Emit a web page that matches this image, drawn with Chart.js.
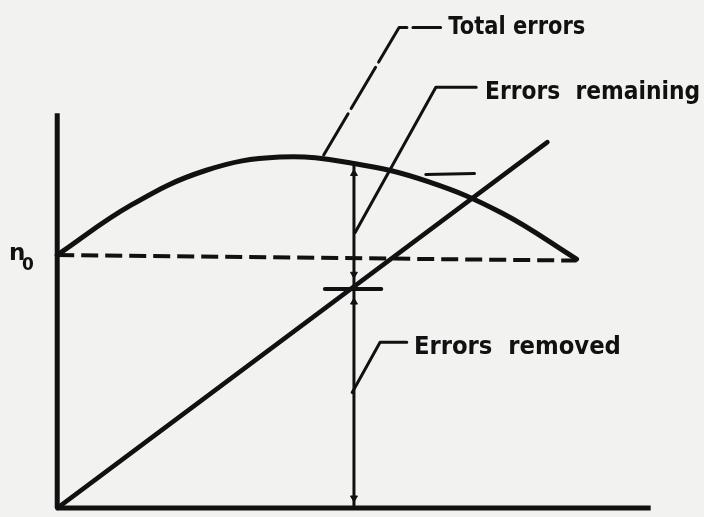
<!DOCTYPE html>
<html>
<head>
<meta charset="utf-8">
<script src="https://cdn.jsdelivr.net/npm/chart.js@4.4.1/dist/chart.umd.min.js"></script>
<style>
  html, body { margin: 0; padding: 0; background: #f2f2f0; }
  #wrap { width: 704px; height: 517px; }
</style>
</head>
<body>
<div id="wrap"><canvas id="errorsChart" width="704" height="517"></canvas></div>
<script>
// time runs 0..1 along the x axis, errors measured so that n0 = 100
const n0 = 100;
const curveTime = [0, 0.125, 0.25, 0.375, 0.5, 0.625, 0.75, 0.875];
const totalErrors = [100, 119.8, 133.4, 138.7, 136.2, 129.0, 116.5, 98.4];
const removedTime = [0, 0.826];
const errorsRemoved = [0, 144.6];
const n0Time = [0, 0.875];
const n0Level = [100, 97.8];
const sampleTime = 0.5;        // the instant where the arrows are drawn
const sampleTotal = 136.2;     // total errors at that instant
const sampleRemoved = 87.4;    // errors removed at that instant
const axisTop = 156;
const axisEnd = 1;

// leader lines for the callouts (time, errors)
const totalLeader = [[0.449, 139.5], [0.576, 189.9], [0.646, 189.9]];
const remainingLeader = [[0.502, 108.9], [0.638, 166.3], [0.706, 166.3]];
const removedLeader = [[0.497, 45.7], [0.544, 65.5], [0.589, 65.5]];
const strayLeader = [[0.621, 131.8], [0.703, 132.2]];

const callouts = [
  { text: 'Total errors', at: [0.659, 187.2], width: 137 },
  { text: 'Errors  remaining', at: [0.721, 161.6], width: 215 },
  { text: 'Errors  removed', at: [0.601, 60.9], width: 207 }
];

const ink = '#111111';

function pts(xs, ys) {
  return xs.map((x, i) => ({ x: x, y: ys[i] }));
}
function pairs(list) {
  return list.map(p => ({ x: p[0], y: p[1] }));
}
function lineSet(data, width, extra) {
  return Object.assign({
    data: data,
    showLine: true,
    borderColor: ink,
    borderWidth: width,
    pointRadius: 0,
    fill: false,
    tension: 0,
    clip: false,
    borderCapStyle: 'round',
    borderJoinStyle: 'round'
  }, extra || {});
}

const background = {
  id: 'background',
  beforeDraw(chart) {
    const c = chart.ctx;
    c.save();
    c.fillStyle = '#f2f2f0';
    c.fillRect(0, 0, chart.width, chart.height);
    c.restore();
  }
};

const labels = {
  id: 'labels',
  afterDatasetsDraw(chart) {
    const c = chart.ctx;
    const xs = chart.scales.x;
    const ys = chart.scales.y;
    c.save();
    c.fillStyle = ink;
    c.textBaseline = 'alphabetic';
    c.font = 'bold 24px "DejaVu Sans"';
    callouts.forEach(l => {
      const w = c.measureText(l.text).width;
      c.save();
      c.translate(xs.getPixelForValue(l.at[0]), ys.getPixelForValue(l.at[1]));
      c.scale(l.width / w, 1);
      c.fillText(l.text, 0, 0);
      c.restore();
    });
    // n0 marker on the y axis
    const yp = ys.getPixelForValue(n0);
    c.font = 'bold 23px "DejaVu Sans"';
    c.fillText('n', 9, yp + 5);
    c.font = 'bold 17px "DejaVu Sans"';
    c.fillText('0', 22, yp + 15);
    c.restore();
  }
};

new Chart(document.getElementById('errorsChart'), {
  type: 'scatter',
  data: {
    datasets: [
      lineSet([{ x: 0, y: 0 }, { x: 0, y: axisTop }], 5, { borderCapStyle: 'butt' }),
      lineSet([{ x: 0, y: 0 }, { x: axisEnd, y: 0 }], 5, { borderCapStyle: 'butt' }),
      lineSet(pts(curveTime, totalErrors), 5, { tension: 0.4 }),
      lineSet(pts(n0Time, n0Level), 4, { borderDash: [17, 7], borderCapStyle: 'butt' }),
      lineSet(pts(removedTime, errorsRemoved), 4.5),
      lineSet([{ x: sampleTime, y: 0 }, { x: sampleTime, y: sampleTotal }], 3),
      lineSet([{ x: sampleTime - 0.049, y: sampleRemoved - 0.8 }, { x: sampleTime + 0.046, y: sampleRemoved - 0.8 }], 4),
      lineSet(pairs(totalLeader), 3, { borderDash: [48, 6] }),
      lineSet(pairs(remainingLeader), 3),
      lineSet(pairs(removedLeader), 3),
      lineSet(pairs(strayLeader), 3),
      {
        data: [
          { x: sampleTime, y: sampleTotal - 4 },
          { x: sampleTime, y: sampleRemoved + 5 },
          { x: sampleTime, y: sampleRemoved - 6 },
          { x: sampleTime, y: 4 }
        ],
        showLine: false,
        pointStyle: 'triangle',
        rotation: [0, 180, 0, 180],
        pointRadius: 4,
        backgroundColor: ink,
        borderColor: ink,
        borderWidth: 1,
        clip: false
      }
    ]
  },
  options: {
    responsive: false,
    animation: false,
    devicePixelRatio: 1,
    layout: { padding: 0 },
    scales: {
      x: { type: 'linear', min: -0.088, max: 1.0814, display: false },
      y: { type: 'linear', min: -1.55, max: 198.8, display: false }
    },
    plugins: {
      legend: { display: false },
      tooltip: { enabled: false }
    }
  },
  plugins: [background, labels]
});
</script>
</body>
</html>
